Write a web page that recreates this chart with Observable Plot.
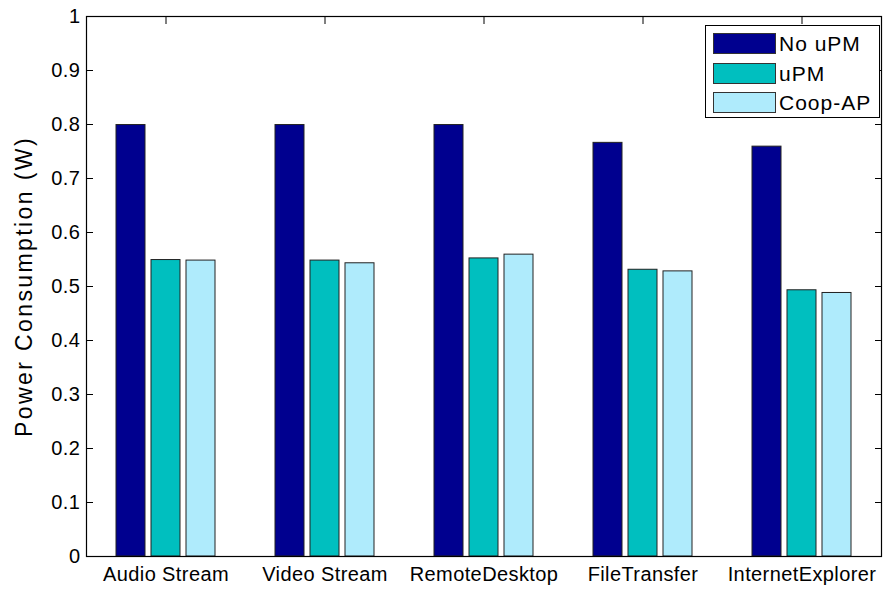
<!DOCTYPE html>
<html>
<head>
<meta charset="utf-8">
<script src="https://cdn.jsdelivr.net/npm/d3@7"></script>
<script src="https://cdn.jsdelivr.net/npm/@observablehq/plot@0.6"></script>
<style>
  body { margin: 0; background: #fff; }
  #wrap { position: relative; width: 887px; height: 590px; font-family: "Liberation Sans", Arial, sans-serif; }
  #legend { position: absolute; left: 705px; top: 25px; width: 175px; height: 93px; border: 1px solid #000; background: #fff; box-sizing: border-box; }
  .row { position: absolute; left: 7px; height: 21px; display: flex; align-items: center; }
  .sw { width: 63px; height: 21px; box-sizing: border-box; border: 1px solid #333; }
  .lab { margin-left: 3px; font-size: 21px; letter-spacing: 1px; color: #000; line-height: 21px; }
  g[aria-label="text"] text { letter-spacing: 2.4px; }
  g[aria-label="fx-axis tick label"] text { letter-spacing: 0.4px; }
  g[aria-label="y-axis tick label"] text { letter-spacing: 0.5px; }
</style>
</head>
<body>
<div id="wrap"></div>
<script>
const categories = ["Audio Stream", "Video Stream", "RemoteDesktop", "FileTransfer", "InternetExplorer"];
const series = ["No uPM", "uPM", "Coop-AP"];
const noUPM  = [0.799, 0.799, 0.799, 0.766, 0.759];
const uPM    = [0.549, 0.548, 0.552, 0.531, 0.493];
const coopAP = [0.548, 0.543, 0.559, 0.528, 0.488];
const colors = ["#00008F", "#00BFBF", "#AFEBFC"];
const yTickValues = [0, 0.1, 0.2, 0.3, 0.4, 0.5, 0.6, 0.7, 0.8, 0.9, 1];
const yTickLabels = ["0", "0.1", "0.2", "0.3", "0.4", "0.5", "0.6", "0.7", "0.8", "0.9", "1"];
const yLabel = "Power Consumption (W)";

const seriesValues = [noUPM, uPM, coopAP];
const data = categories.flatMap((c, i) =>
  series.map((s, j) => ({category: c, series: s, value: seriesValues[j][i]}))
);
const fmtY = d => yTickLabels[yTickValues.indexOf(d)];

const chart = Plot.plot({
  width: 887,
  height: 590,
  marginLeft: 85,
  marginRight: 5,
  marginTop: 16,
  marginBottom: 34,
  style: {fontFamily: "Liberation Sans, Arial, sans-serif", fontSize: "20px", color: "#000", background: "#fff"},
  fx: {domain: categories, padding: 0, label: null},
  x: {domain: series, paddingInner: 1 / 6, paddingOuter: 0.797, axis: null},
  y: {domain: [0, 1], label: null, axis: null},
  color: {domain: series, range: colors},
  marks: [
    Plot.barY(data, {fx: "category", x: "series", y: "value", fill: "series", stroke: "#222", strokeWidth: 1}),
    Plot.frame({facet: "super", stroke: "#000", strokeWidth: 1.2}),
    Plot.axisY({ticks: yTickValues, tickSize: 0, tickPadding: 6, tickFormat: fmtY, label: null}),
    Plot.axisY({ticks: yTickValues, tickSize: -7, tickFormat: () => "", label: null}),
    Plot.axisY({anchor: "right", ticks: yTickValues, tickSize: -7, tickFormat: () => "", label: null}),
    Plot.axisFx({anchor: "bottom", tickSize: 0, tickPadding: 10, label: null}),
    Plot.axisFx({anchor: "top", tickSize: -7, tickFormat: () => "", label: null}),
    Plot.text([yLabel], {facet: "super", frameAnchor: "left", textAnchor: "middle", rotate: -90, dx: -62, fontSize: 23, text: d => d})
  ]
});

const wrap = document.getElementById("wrap");
wrap.appendChild(chart);

const legend = document.createElement("div");
legend.id = "legend";
series.forEach((s, i) => {
  const row = document.createElement("div");
  row.className = "row";
  row.style.top = (7 + i * 29.5) + "px";
  const sw = document.createElement("div");
  sw.className = "sw";
  sw.style.background = colors[i];
  const lab = document.createElement("span");
  lab.className = "lab";
  lab.textContent = s;
  row.appendChild(sw);
  row.appendChild(lab);
  legend.appendChild(row);
});
wrap.appendChild(legend);
</script>
</body>
</html>
